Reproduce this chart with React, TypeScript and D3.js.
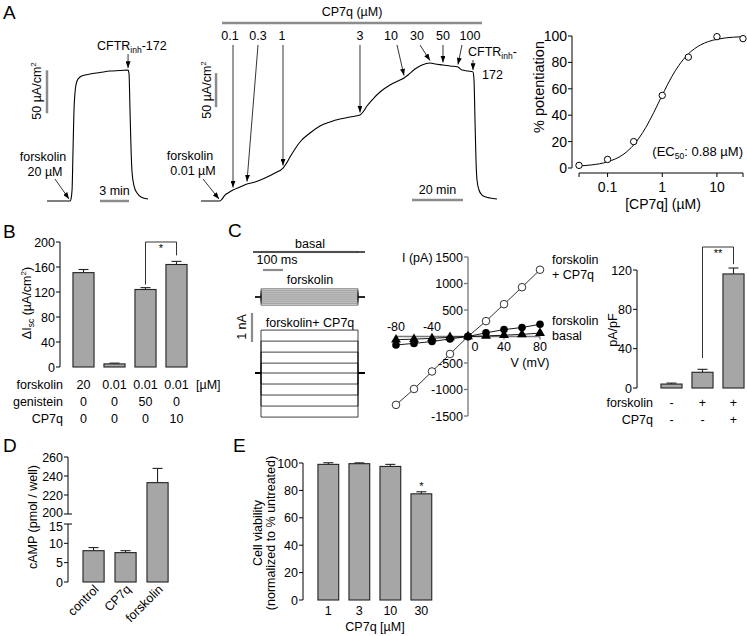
import React from "react";
import * as d3 from "d3";

const FONT = "'Liberation Sans', Arial, Helvetica, sans-serif";
const BAR_FILL = "#a6a6a6";
const BAR_STROKE = "#222";
const SCALE_GRAY = "#8c8c8c";
const FS = 12.5;

// ---------------- Panel A: Isc traces [time (min), ΔIsc (µA/cm²)] ----------------
const traceForsk20: [number, number][] = [
  [0, 0], [2.38, 0], [2.48, 2.3], [2.59, 12.8], [2.69, 59.3], [2.79, 105.8], [2.9, 126.7],
  [3.1, 139.5], [3.41, 144.2], [3.93, 146.5], [4.45, 147.7], [5.48, 149.4], [6.51, 151.2],
  [7.55, 151.7], [8.38, 152.3], [8.48, 147.7], [8.58, 105.8], [8.69, 59.3], [8.79, 33.7],
  [9.0, 17.4], [9.31, 9.3], [9.72, 4.7], [10.44, 2.3],
];
const traceCP7q: [number, number][] = [
  [0, 0], [7.45, 0], [8.24, 2.9], [9.41, 8.8], [10.59, 11.8], [12.55, 16.2], [15.29, 20.6],
  [18.04, 25.0], [21.18, 27.9], [25.1, 33.8], [29.02, 41.2], [32.16, 48.5], [33.33, 54.4],
  [34.9, 64.7], [36.86, 76.5], [38.82, 86.8], [42.75, 100.0], [46.67, 110.3], [50.59, 116.2],
  [54.51, 120.6], [58.43, 123.5], [62.35, 126.5], [63.53, 130.9], [65.1, 139.7], [67.06, 148.5],
  [70.2, 160.3], [74.12, 170.6], [78.04, 177.9], [79.61, 180.9], [81.18, 185.3], [83.92, 194.1],
  [86.67, 200.0], [89.8, 202.9], [91.76, 201.5], [94.9, 200.0], [97.65, 198.5], [100.78, 197.1],
  [102.35, 192.6], [104.71, 191.2], [106.67, 189.7], [107.06, 177.9], [107.45, 119.1],
  [107.84, 60.3], [108.24, 30.9], [109.02, 16.2], [110.2, 8.8], [111.76, 5.9], [113.33, 4.4],
  [116.08, 2.9],
];
const cp7qConcLabels = ["0.1", "0.3", "1", "3", "10", "30", "50", "100"];
const cp7qAddTimes = [12.55, 18.04, 32.16, 62.35, 79.61, 89.8, 94.9, 100.78];
const forskLeftTime = 2.38;
const cftrLeftTime = 8.38;
const forskMidTime = 7.45;
const cftrMidTime = 106.67;

// Panel A: dose response
const doseConc = [0.03, 0.1, 0.3, 1, 3, 10, 30];
const dosePot = [2, 6.5, 20, 55, 84, 99.5, 98];
const fitConc = [0.03, 0.05, 0.1, 0.2, 0.3, 0.5, 0.7, 1, 1.5, 2, 3, 5, 7, 10, 20, 30];
const fitPot = [1.6, 2.3, 4.7, 10.7, 17.5, 30.7, 42.1, 55.2, 69.3, 77.6, 86.4, 93.2, 95.8, 97.5, 99.1, 99.5];
const doseYTicks = [0, 20, 40, 60, 80, 100];
const doseXTicks = [0.1, 1, 10];

// ---------------- Panel B ----------------
const bForskolin = ["20", "0.01", "0.01", "0.01"];
const bGenistein = ["0", "0", "50", "0"];
const bCP7q = ["0", "0", "0", "10"];
const bMean = [151, 5, 124, 164];
const bErr = [5, 1.2, 3, 5];
const bYTicks = [0, 40, 80, 120, 160, 200];

// ---------------- Panel C ----------------
const famCP7qCurrents = [1.48, 1.1, 0.72, 0.34, 0, -0.38, -0.76, -1.14, -1.52]; // nA
const famForskCurrents = [0.28, 0.21, 0.14, 0.07, 0, -0.07, -0.14, -0.21, -0.28];
const famBasalCurrents = [0.02, 0.01, 0, -0.01, -0.02];

const ivV = [-80, -60, -40, -20, 0, 20, 40, 60, 80];
const ivForskCP7q = [-1290, -990, -660, -330, 0, 290, 610, 930, 1260];
const ivForsk = [-160, -130, -95, -45, 0, 70, 130, 170, 230];
const ivBasal = [-60, -50, -35, -15, 0, 10, 25, 40, 65];
const ivYTicks = [1500, 1000, 500, -500, -1000, -1500];
const ivXTicksBelow = [0, 40, 80];
const ivXTicksAbove = [-80, -40];

const cForskolin = ["-", "+", "+"];
const cCP7q = ["-", "-", "+"];
const cMean = [4, 16, 116];
const cErr = [1, 3, 6];
const cYTicks = [0, 40, 80, 120];

// ---------------- Panel D ----------------
const dCats = ["control", "CP7q", "forskolin"];
const dMean = [8.1, 7.6, 233];
const dErr = [0.8, 0.5, 15];
const dLowTicks = [0, 5, 10, 15];
const dHighTicks = [200, 220, 240, 260];

// ---------------- Panel E ----------------
const eCats = ["1", "3", "10", "30"];
const eMean = [99, 99.5, 97.5, 77.5];
const eErr = [1.2, 0.6, 1.5, 1.5];
const eYTicks = [0, 20, 40, 60, 80, 100];

type P = [number, number];

function Arrow({ x1, y1, x2, y2 }: { x1: number; y1: number; x2: number; y2: number }) {
  return <line x1={x1} y1={y1} x2={x2} y2={y2} stroke="#000" strokeWidth={0.8} markerEnd="url(#arrowhead)" />;
}

function ErrBar({ x, y0, y1, w = 10 }: { x: number; y0: number; y1: number; w?: number }) {
  return (
    <g stroke="#222" strokeWidth={1.1}>
      <line x1={x} x2={x} y1={y0} y2={y1} />
      <line x1={x - w / 2} x2={x + w / 2} y1={y1} y2={y1} />
    </g>
  );
}

function YAxis({
  x,
  scale,
  ticks,
  fs = FS,
  labelDy,
}: {
  x: number;
  scale: (v: number) => number;
  ticks: number[];
  fs?: number;
  labelDy?: (t: number) => number;
}) {
  const ys = ticks.map((t) => scale(t));
  return (
    <g>
      <line x1={x} x2={x} y1={Math.min(...ys)} y2={Math.max(...ys)} stroke="#000" strokeWidth={1} />
      {ticks.map((t, i) => (
        <g key={i}>
          <line x1={x - 4} x2={x} y1={ys[i]} y2={ys[i]} stroke="#000" strokeWidth={1} />
          <text x={x - 5} y={ys[i] + fs * 0.36 + (labelDy ? labelDy(t) : 0)} textAnchor="end" fontSize={fs}>
            {String(t)}
          </text>
        </g>
      ))}
    </g>
  );
}

export default function App() {
  // ---- Panel A scales ----
  const xL = d3.scaleLinear().domain([0, 10.44]).range([47, 148]);
  const yL = d3.scaleLinear().domain([0, 50]).range([201, 158]);
  const xM = d3.scaleLinear().domain([0, 116.08]).range([201, 497]);
  const yM = d3.scaleLinear().domain([0, 50]).range([201, 167]);
  const lineL = d3.line<P>().x((d) => xL(d[0])).y((d) => yL(d[1])).curve(d3.curveMonotoneX);
  const lineM = d3.line<P>().x((d) => xM(d[0])).y((d) => yM(d[1])).curve(d3.curveMonotoneX);
  const interpL = d3.scaleLinear().domain(traceForsk20.map((d) => d[0])).range(traceForsk20.map((d) => d[1]));
  const interpM = d3.scaleLinear().domain(traceCP7q.map((d) => d[0])).range(traceCP7q.map((d) => d[1]));

  const labelDx = [-3, 11, -1, 0, -13, -13, 0, 12];
  const startDx = [0, 11, 0, 0, -7, -10, 0, 4];

  const xD = d3.scaleLog().domain([0.03, 30]).range([579, 743]);
  const yD = d3.scaleLinear().domain([0, 100]).range([168, 36]);
  const fitLine = d3
    .line<number>()
    .x((_, i) => xD(fitConc[i]))
    .y((d) => yD(d))
    .curve(d3.curveMonotoneX);

  // ---- Panel B ----
  const xB = d3.scaleBand<number>().domain(d3.range(4)).range([68, 192]).paddingInner(0.32).paddingOuter(0.16);
  const yB = d3.scaleLinear().domain([0, 200]).range([367, 242]);
  const bc = (i: number) => (xB(i) as number) + xB.bandwidth() / 2;

  // ---- Panel C ----
  const tC = d3.scaleLinear().domain([0, 560]).range([253, 365]);
  const famPath = (hold: number, I: number, lead: boolean) => {
    const y = hold - I * 29;
    const x0 = lead ? tC(10) : tC(0);
    const x3 = tC(560);
    return `M${x0},${hold}H${tC(40)}V${y}H${tC(525)}V${hold}H${x3}`;
  };
  const xIV = d3.scaleLinear().domain([-80, 80]).range([396, 540]);
  const yIV = d3.scaleLinear().domain([-1500, 1500]).range([416, 257]);
  const ivLine = (vals: number[]) =>
    d3.line<number>().x((_, i) => xIV(ivV[i])).y((d) => yIV(d))(vals) as string;
  const tri = d3.symbol().type(d3.symbolTriangle).size(42)() as string;

  const xC = d3.scaleBand<number>().domain(d3.range(3)).range([656, 749]).paddingInner(0.32).paddingOuter(0.16);
  const yC = d3.scaleLinear().domain([0, 120]).range([388, 270]);
  const cc = (i: number) => (xC(i) as number) + xC.bandwidth() / 2;

  // ---- Panel D ----
  const xDd = d3.scaleBand<number>().domain(d3.range(3)).range([73.4, 177.7]).paddingInner(0.34).paddingOuter(0.3);
  const yDlow = d3.scaleLinear().domain([0, 15]).range([582, 524]);
  const yDhigh = d3.scaleLinear().domain([200, 260]).range([514, 457]);
  const yDv = (v: number) => (v <= 15 ? yDlow(v) : yDhigh(v));
  const dc = (i: number) => (xDd(i) as number) + xDd.bandwidth() / 2;

  // ---- Panel E ----
  const xE = d3.scaleBand<number>().domain(d3.range(4)).range([304, 445.7]).paddingInner(0.33).paddingOuter(0.45);
  const yE = d3.scaleLinear().domain([0, 100]).range([600, 463]);
  const ec = (i: number) => (xE(i) as number) + xE.bandwidth() / 2;

  const DFS = 14;

  return (
    <svg
      width={747}
      height={636}
      viewBox="0 0 747 636"
      style={{ position: "absolute", left: 0, top: 0, background: "#fff" }}
      fontFamily={FONT}
      fill="#000"
    >
      <defs>
        <marker id="arrowhead" viewBox="0 0 8 6" refX={8} refY={3} markerWidth={7} markerHeight={5} markerUnits="userSpaceOnUse" orient="auto">
          <path d="M0,0 L8,3 L0,6 z" fill="#000" />
        </marker>
      </defs>
      <rect width={747} height={636} fill="#fff" />

      {/* ================= Panel A ================= */}
      <text x={3} y={19} fontSize={19}>A</text>

      {/* left trace */}
      <path d={lineL(traceForsk20) as string} fill="none" stroke="#000" strokeWidth={1.1} />
      <line x1={xL(0)} x2={xL(0)} y1={yL(102)} y2={yL(152)} stroke={SCALE_GRAY} strokeWidth={2.5} />
      <text transform={`translate(41,91) rotate(-90)`} textAnchor="middle" fontSize={FS}>
        50 µA/cm<tspan fontSize={8} dy={-5}>2</tspan>
      </text>
      <line x1={xL(5.48)} x2={xL(8.48)} y1={201} y2={201} stroke={SCALE_GRAY} strokeWidth={2.5} />
      <text x={xL(6.98)} y={195} textAnchor="middle" fontSize={FS}>3 min</text>
      <text x={97} y={50} fontSize={FS}>
        CFTR<tspan fontSize={8.5} dy={3}>inh</tspan><tspan dy={-3}>-172</tspan>
      </text>
      <Arrow x1={xL(cftrLeftTime)} y1={54} x2={xL(cftrLeftTime)} y2={yL(interpL(cftrLeftTime)) - 2} />
      <text x={43} y={161} textAnchor="middle" fontSize={FS}>forskolin</text>
      <text x={45} y={176} textAnchor="middle" fontSize={FS}>20 µM</text>
      <Arrow x1={55} y1={179} x2={xL(forskLeftTime) - 1} y2={yL(0) - 2} />

      {/* middle trace */}
      <path d={lineM(traceCP7q) as string} fill="none" stroke="#000" strokeWidth={1.1} />
      <line x1={xM(5.9)} x2={xM(5.9)} y1={yM(138)} y2={yM(188)} stroke={SCALE_GRAY} strokeWidth={2.5} />
      <text transform={`translate(211,90) rotate(-90)`} textAnchor="middle" fontSize={FS}>
        50 µA/cm<tspan fontSize={8} dy={-5}>2</tspan>
      </text>
      <line x1={xM(82.75)} x2={xM(102.75)} y1={200} y2={200} stroke={SCALE_GRAY} strokeWidth={2.5} />
      <text x={xM(92.75)} y={194} textAnchor="middle" fontSize={FS}>20 min</text>
      <line x1={222} x2={482} y1={23} y2={23} stroke={SCALE_GRAY} strokeWidth={2.5} />
      <text x={352} y={16} textAnchor="middle" fontSize={FS}>CP7q (µM)</text>
      {cp7qConcLabels.map((lab, i) => {
        const tx = xM(cp7qAddTimes[i]);
        const ty = yM(interpM(cp7qAddTimes[i])) - 2.5;
        return (
          <g key={lab}>
            <text x={tx + labelDx[i]} y={40} textAnchor="middle" fontSize={FS}>{lab}</text>
            <Arrow x1={tx + startDx[i]} y1={45} x2={tx} y2={ty} />
          </g>
        );
      })}
      <text x={468} y={56} fontSize={FS}>
        CFTR<tspan fontSize={8.5} dy={3}>inh</tspan><tspan dy={-3}>-</tspan>
      </text>
      <text x={482} y={79} fontSize={FS}>172</text>
      <Arrow x1={xM(cftrMidTime)} y1={60} x2={xM(cftrMidTime)} y2={yM(interpM(cftrMidTime)) - 2} />
      <text x={190} y={160} textAnchor="middle" fontSize={FS}>forskolin</text>
      <text x={193} y={175} textAnchor="middle" fontSize={FS}>0.01 µM</text>
      <Arrow x1={203} y1={179} x2={xM(forskMidTime) - 1} y2={yM(0) - 2} />

      {/* dose response */}
      <YAxis x={572} scale={yD} ticks={doseYTicks} fs={DFS} />
      <line x1={579} x2={743} y1={173} y2={173} stroke="#000" />
      {[0.03, ...doseXTicks, 30].map((t, i) => (
        <line key={i} x1={xD(t)} x2={xD(t)} y1={173} y2={177} stroke="#000" />
      ))}
      {doseXTicks.map((t) => (
        <text key={t} x={xD(t)} y={192} textAnchor="middle" fontSize={DFS}>{String(t)}</text>
      ))}
      <text x={663} y={209} textAnchor="middle" fontSize={DFS}>[CP7q] (µM)</text>
      <text transform={`translate(544,87) rotate(-90)`} textAnchor="middle" fontSize={DFS + 0.5}>% potentiation</text>
      <path d={fitLine(fitPot) as string} fill="none" stroke="#000" strokeWidth={1} />
      {doseConc.map((c, i) => (
        <circle key={i} cx={xD(c)} cy={yD(dosePot[i])} r={3.2} fill="#fff" stroke="#000" strokeWidth={1} />
      ))}
      <text x={743} y={156} textAnchor="end" fontSize={13}>
        (EC<tspan fontSize={8.5} dy={3}>50</tspan><tspan dy={-3}>: 0.88 µM)</tspan>
      </text>

      {/* ================= Panel B ================= */}
      <text x={3} y={238} fontSize={19}>B</text>
      <YAxis x={60} scale={yB} ticks={bYTicks} />
      {bMean.map((m, i) => (
        <g key={i}>
          <ErrBar x={bc(i)} y0={yB(m)} y1={yB(m + bErr[i])} />
          <rect x={xB(i)} y={yB(m)} width={xB.bandwidth()} height={yB(0) - yB(m)} fill={BAR_FILL} stroke={BAR_STROKE} strokeWidth={1.1} />
        </g>
      ))}
      <path
        d={`M${bc(2)},${yB(bMean[2] + bErr[2]) - 3}V242H${bc(3)}V${yB(bMean[3] + bErr[3]) - 6}`}
        fill="none"
        stroke="#000"
        strokeWidth={0.8}
      />
      <text x={(bc(2) + bc(3)) / 2} y={252} textAnchor="middle" fontSize={11}>*</text>
      <text transform={`translate(31,303) rotate(-90)`} textAnchor="middle" fontSize={FS}>
        ΔI<tspan fontSize={8.5} dy={3}>sc</tspan><tspan dy={-3}> (µA/cm</tspan><tspan fontSize={8} dy={-5}>2</tspan><tspan dy={5}>)</tspan>
      </text>
      {[
        ["forskolin", bForskolin, 389],
        ["genistein", bGenistein, 406],
        ["CP7q", bCP7q, 423],
      ].map(([lab, vals, y]) => (
        <g key={lab as string}>
          <text x={63} y={y as number} textAnchor="end" fontSize={FS}>{lab as string}</text>
          {(vals as string[]).map((v, i) => (
            <text key={i} x={bc(i)} y={y as number} textAnchor="middle" fontSize={FS}>{v}</text>
          ))}
        </g>
      ))}
      <text x={196} y={389} fontSize={FS}>[µM]</text>

      {/* ================= Panel C ================= */}
      <text x={228} y={237} fontSize={19}>C</text>
      {/* current traces */}
      <text x={310} y={248} textAnchor="middle" fontSize={FS}>basal</text>
      {famBasalCurrents.map((I, i) => (
        <path key={i} d={famPath(252, I, false)} fill="none" stroke="#333" strokeWidth={0.6} />
      ))}
      <text x={277} y={264} textAnchor="middle" fontSize={FS}>100 ms</text>
      <line x1={tC(50)} x2={tC(150)} y1={270} y2={270} stroke={SCALE_GRAY} strokeWidth={2.2} />
      <text x={310} y={284} textAnchor="middle" fontSize={FS}>forskolin</text>
      {famForskCurrents.map((I, i) => (
        <path key={i} d={famPath(297, I, true)} fill="none" stroke="#222" strokeWidth={0.7} />
      ))}
      <line x1={252} x2={252} y1={313} y2={342} stroke={SCALE_GRAY} strokeWidth={2.2} />
      <text transform={`translate(246,327) rotate(-90)`} textAnchor="middle" fontSize={FS}>1 nA</text>
      <text x={310} y={327} textAnchor="middle" fontSize={FS}>forskolin+ CP7q</text>
      {famCP7qCurrents.map((I, i) => (
        <path key={i} d={famPath(373, I, true)} fill="none" stroke="#111" strokeWidth={0.8} />
      ))}
      <line x1={tC(10)} x2={tC(40)} y1={373} y2={373} stroke="#000" strokeWidth={2} />
      <line x1={tC(525)} x2={tC(560)} y1={373} y2={373} stroke="#000" strokeWidth={2} />

      {/* IV plot */}
      <g stroke="#777" strokeWidth={1.3}>
        <line x1={xIV(0)} x2={xIV(0)} y1={yIV(1500)} y2={yIV(-1500)} />
        <line x1={xIV(-80)} x2={xIV(80)} y1={yIV(0)} y2={yIV(0)} />
        {ivYTicks.map((t) => (
          <line key={t} x1={xIV(0) - 4} x2={xIV(0)} y1={yIV(t)} y2={yIV(t)} />
        ))}
        {[...ivXTicksAbove, ...ivXTicksBelow.filter((v) => v !== 0)].map((t) => (
          <line key={t} x1={xIV(t)} x2={xIV(t)} y1={yIV(0)} y2={yIV(0) + 3} />
        ))}
      </g>
      {ivYTicks.map((t) => (
        <text key={t} x={463} y={yIV(t) + 4.5} textAnchor="end" fontSize={FS}>{String(t)}</text>
      ))}
      <text x={402} y={262} fontSize={FS}>I (pA)</text>
      {ivXTicksAbove.map((t) => (
        <text key={t} x={xIV(t)} y={331} textAnchor="middle" fontSize={FS}>{String(t)}</text>
      ))}
      {ivXTicksBelow.map((t) => (
        <text key={t} x={xIV(t) + (t === 0 ? 7 : 0)} y={351} textAnchor="middle" fontSize={FS}>{String(t)}</text>
      ))}
      <text x={530} y={367} textAnchor="middle" fontSize={FS}>V (mV)</text>
      <path d={ivLine(ivForskCP7q)} fill="none" stroke="#000" strokeWidth={0.8} />
      {ivV.map((v, i) => (
        <circle key={i} cx={xIV(v)} cy={yIV(ivForskCP7q[i])} r={3.8} fill="#fff" stroke="#000" strokeWidth={0.8} />
      ))}
      <path d={ivLine(ivForsk)} fill="none" stroke="#000" strokeWidth={0.9} />
      {ivV.map((v, i) => (
        <circle key={i} cx={xIV(v)} cy={yIV(ivForsk[i])} r={3.8} fill="#000" />
      ))}
      <path d={ivLine(ivBasal)} fill="none" stroke="#000" strokeWidth={0.9} />
      {ivV.map((v, i) => (
        <path key={i} d={tri} transform={`translate(${xIV(v)},${yIV(ivBasal[i])})`} fill="#000" />
      ))}
      <text x={552} y={264} fontSize={FS}>forskolin</text>
      <text x={552} y={279} fontSize={FS}>+ CP7q</text>
      <text x={552} y={325} fontSize={FS}>forskolin</text>
      <text x={552} y={340} fontSize={FS}>basal</text>

      {/* C right bars */}
      <YAxis x={637} scale={yC} ticks={cYTicks} />
      {cMean.map((m, i) => (
        <g key={i}>
          <ErrBar x={cc(i)} y0={yC(m)} y1={yC(m + cErr[i])} />
          <rect x={xC(i)} y={yC(m)} width={xC.bandwidth()} height={yC(0) - yC(m)} fill={BAR_FILL} stroke={BAR_STROKE} strokeWidth={1.1} />
        </g>
      ))}
      <path
        d={`M${cc(1)},358V247H${cc(2)}V${yC(cMean[2] + cErr[2]) - 4}`}
        fill="none"
        stroke="#000"
        strokeWidth={0.8}
      />
      <text x={(cc(1) + cc(2)) / 2} y={257} textAnchor="middle" fontSize={11}>**</text>
      <text transform={`translate(617,330) rotate(-90)`} textAnchor="middle" fontSize={FS}>pA/pF</text>
      <text x={653} y={407} textAnchor="end" fontSize={FS}>forskolin</text>
      <text x={653} y={424} textAnchor="end" fontSize={FS}>CP7q</text>
      {cForskolin.map((s, i) => (
        <text key={i} x={cc(i)} y={407} textAnchor="middle" fontSize={FS}>{s}</text>
      ))}
      {cCP7q.map((s, i) => (
        <text key={i} x={cc(i)} y={424} textAnchor="middle" fontSize={FS}>{s}</text>
      ))}

      {/* ================= Panel D ================= */}
      <text x={3} y={452} fontSize={19}>D</text>
      <YAxis x={68} scale={yDhigh} ticks={dHighTicks} labelDy={(t) => (t === 200 ? -1.5 : 0)} />
      <YAxis x={68} scale={yDlow} ticks={dLowTicks} labelDy={(t) => (t === 15 ? 2 : 0)} />
      <line x1={68} x2={72} y1={yDhigh(200)} y2={yDhigh(200)} stroke="#000" />
      <line x1={68} x2={72} y1={yDlow(15)} y2={yDlow(15)} stroke="#000" />
      {dMean.map((m, i) => (
        <g key={i}>
          <ErrBar x={dc(i)} y0={yDv(m)} y1={yDv(m + dErr[i])} />
          <rect x={xDd(i)} y={yDv(m)} width={xDd.bandwidth()} height={yDlow(0) - yDv(m)} fill={BAR_FILL} stroke={BAR_STROKE} strokeWidth={1.1} />
        </g>
      ))}
      {dCats.map((c, i) => (
        <text key={c} transform={`translate(${dc(i) + 6},${590}) rotate(-45)`} textAnchor="end" fontSize={FS}>{c}</text>
      ))}
      <text transform={`translate(37,517) rotate(-90)`} textAnchor="middle" fontSize={FS}>cAMP (pmol / well)</text>

      {/* ================= Panel E ================= */}
      <text x={233} y={452} fontSize={19}>E</text>
      <YAxis x={303} scale={yE} ticks={eYTicks} />
      {eMean.map((m, i) => (
        <g key={i}>
          <ErrBar x={ec(i)} y0={yE(m)} y1={yE(m + eErr[i])} />
          <rect x={xE(i)} y={yE(m)} width={xE.bandwidth()} height={yE(0) - yE(m)} fill={BAR_FILL} stroke={BAR_STROKE} strokeWidth={1.1} />
        </g>
      ))}
      <text x={ec(3)} y={yE(eMean[3] + eErr[3]) - 2} textAnchor="middle" fontSize={11}>*</text>
      {eCats.map((c, i) => (
        <text key={c} x={ec(i)} y={615} textAnchor="middle" fontSize={FS}>{c}</text>
      ))}
      <text x={375} y={631} textAnchor="middle" fontSize={FS}>CP7q [µM]</text>
      <text transform={`translate(262,533) rotate(-90)`} textAnchor="middle" fontSize={FS}>Cell viability</text>
      <text transform={`translate(275,533) rotate(-90)`} textAnchor="middle" fontSize={FS}>(normalized to % untreated)</text>
    </svg>
  );
}
